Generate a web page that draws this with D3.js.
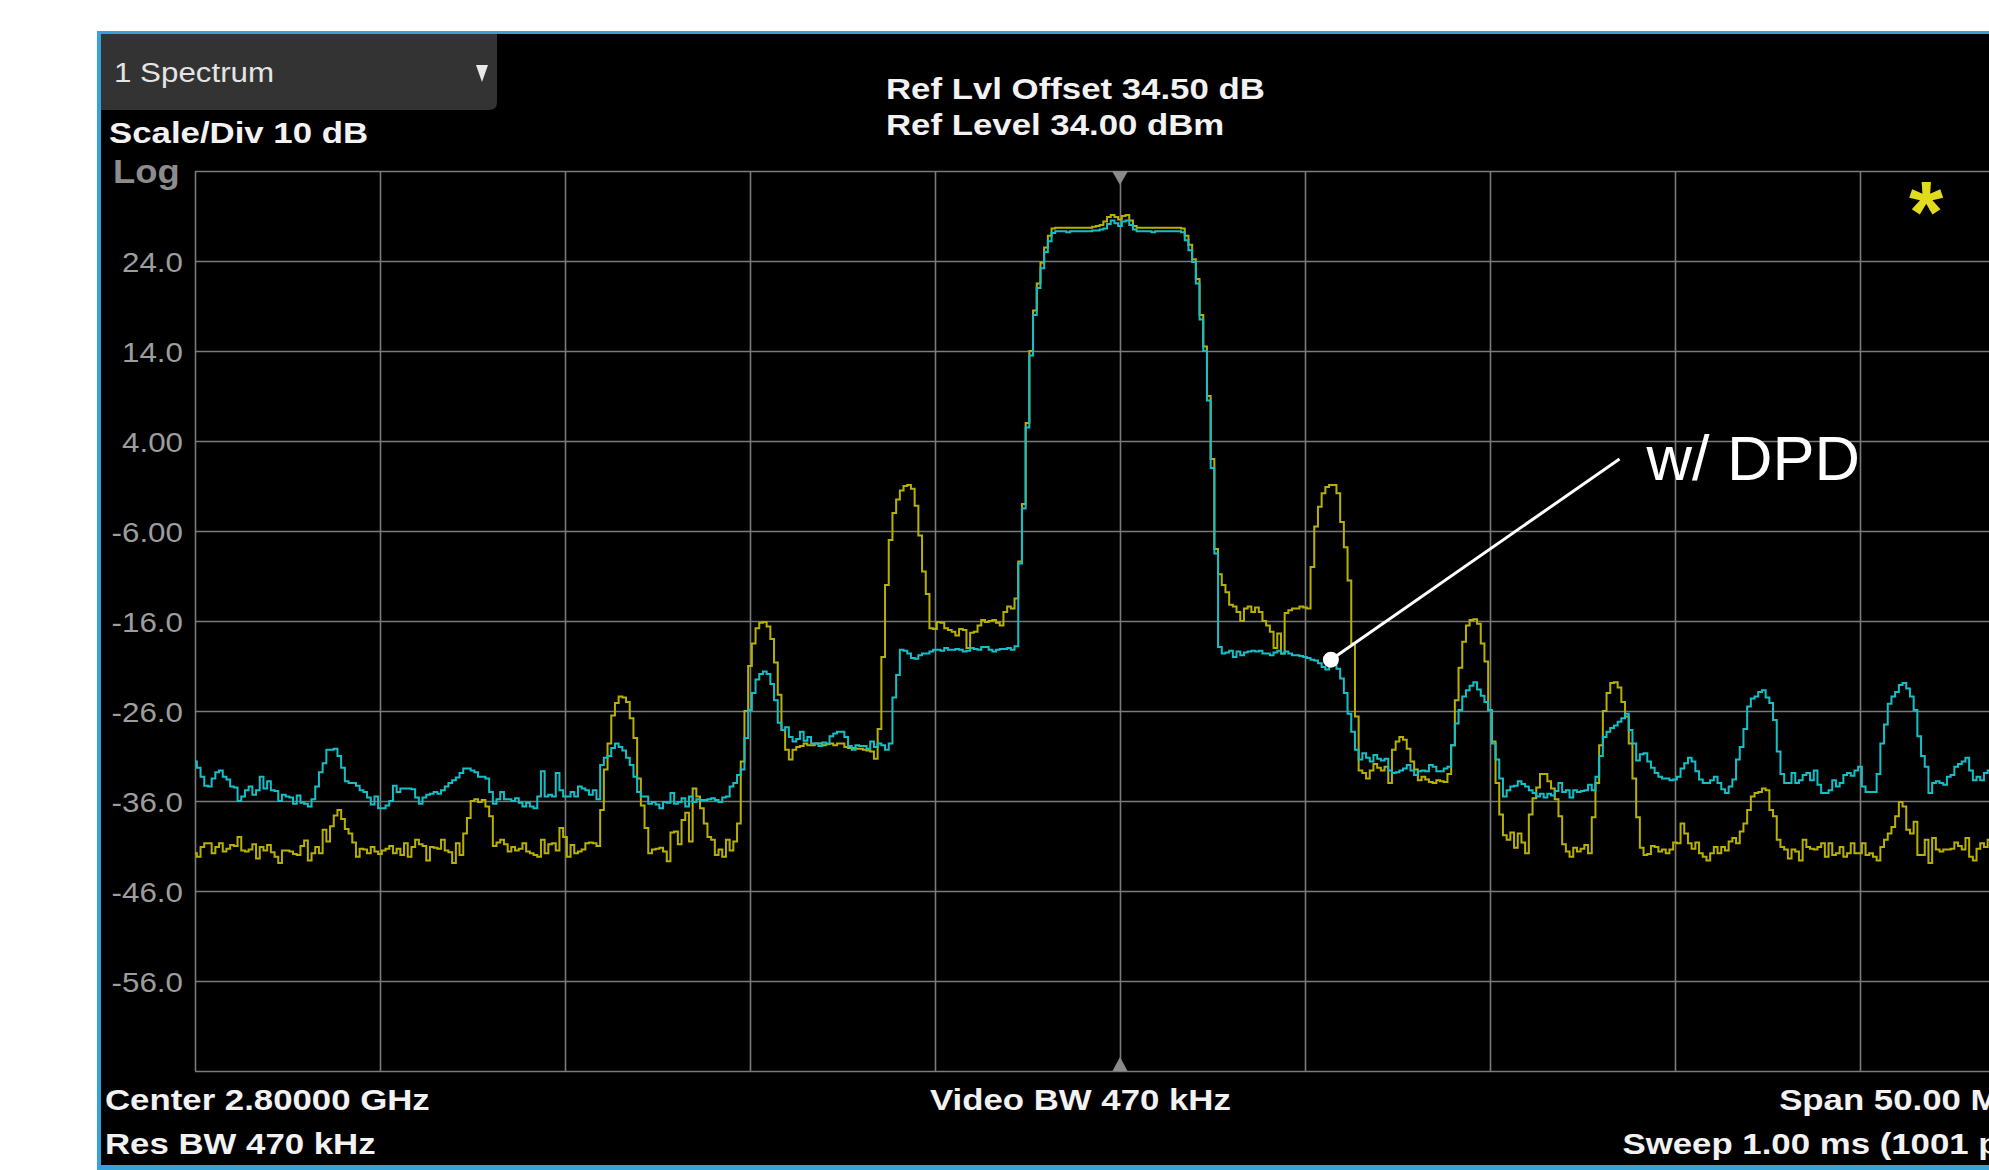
<!DOCTYPE html>
<html>
<head>
<meta charset="utf-8">
<script src="https://cdn.jsdelivr.net/npm/d3@7"></script>
<style>
  html, body { margin: 0; padding: 0; background: #fff; overflow: hidden; }
  svg { display: block; }
  text { font-family: "Liberation Sans", Arial, sans-serif; }
</style>
</head>
<body>
<svg id="chart" width="1989" height="1170"></svg>
<script>
// sweep: 2775 .. 2825 MHz, one value every 0.1 MHz
const START_MHZ = 2775;
const STEP_MHZ = 0.1;

const levelTicks = [34, 24, 14, 4, -6, -16, -26, -36, -46, -56, -66];
const freqTicks = [2775, 2780, 2785, 2790, 2795, 2800, 2805, 2810, 2815, 2820, 2825];

const headerLines = ['Ref Lvl Offset 34.50 dB', 'Ref Level 34.00 dBm'];
const footerLeft = ['Center 2.80000 GHz', 'Res BW 470 kHz'];
const footerMid = ['Video BW 470 kHz'];
const footerRight = ['Span 50.00 MHz', 'Sweep 1.00 ms (1001 pts)'];

// yellow trace (without DPD), dBm
const withoutDpd = [
  -41.8, -42.2, -41.1, -40.7, -40.7, -41.8, -41.1, -40.7, -41.6, -41.3,
  -40.9, -41.0, -40.0, -41.5, -41.6, -41.4, -40.8, -42.4, -41.1, -41.5,
  -40.9, -41.7, -42.2, -42.9, -41.5, -41.5, -41.6, -41.9, -42.0, -41.0,
  -40.4, -42.6, -41.8, -41.1, -41.8, -39.2, -40.5, -38.8, -37.6, -37.0,
  -38.0, -39.1, -39.6, -40.6, -42.2, -41.3, -41.4, -41.8, -41.1, -41.6,
  -41.9, -41.5, -41.3, -41.0, -41.8, -41.3, -42.0, -40.7, -42.2, -41.1,
  -40.3, -40.8, -41.0, -42.6, -41.1, -41.2, -41.3, -40.3, -41.5, -41.7,
  -42.9, -40.7, -42.0, -39.6, -37.9, -36.0, -35.8, -36.1, -35.9, -36.6,
  -37.7, -41.0, -40.6, -40.3, -40.8, -41.6, -41.1, -41.5, -41.3, -40.7,
  -41.6, -41.8, -42.0, -42.2, -40.3, -41.8, -40.8, -40.7, -41.5, -39.0,
  -40.0, -42.2, -40.9, -41.8, -41.6, -41.4, -40.7, -40.6, -40.7, -41.0,
  -37.0, -32.5, -29.6, -26.5, -25.1, -24.4, -24.5, -25.0, -26.8, -29.0,
  -33.5, -36.5, -39.0, -41.8, -41.4, -41.3, -41.2, -41.6, -42.7, -39.5,
  -39.4, -40.8, -38.1, -37.3, -40.5, -34.6, -35.5, -36.8, -38.5, -40.0,
  -40.3, -42.0, -41.4, -42.2, -40.3, -41.5, -40.5, -38.5, -31.6, -26.0,
  -21.0, -18.5, -16.8, -16.2, -16.1, -16.6, -18.0, -20.6, -24.2, -28.1,
  -30.3, -31.4, -30.3, -30.0, -29.9, -29.6, -29.8, -29.8, -29.6, -29.6,
  -29.8, -29.7, -29.6, -29.8, -29.6, -29.6, -30.0, -30.1, -30.1, -30.2,
  -30.2, -30.3, -30.4, -30.5, -31.3, -28.0, -20.0, -12.0, -7.0, -4.0,
  -2.5, -1.5, -1.0, -0.9, -1.3, -3.2, -6.5, -10.5, -13.0, -16.8,
  -16.9, -16.1, -16.2, -16.8, -17.0, -17.2, -17.6, -16.9, -17.0, -19.0,
  -17.3, -17.2, -16.5, -15.9, -16.1, -16.0, -15.9, -16.2, -16.5, -15.0,
  -14.4, -14.6, -13.5, -9.4, -3.0, 6.0, 14.0, 18.5, 21.5, 23.8,
  25.5, 26.8, 27.6, 27.7, 27.7, 27.7, 27.7, 27.7, 27.7, 27.7,
  27.7, 27.7, 27.7, 27.8, 27.9, 28.0, 28.4, 28.9, 29.1, 28.9,
  28.6, 29.0, 29.1, 28.5, 27.9, 27.7, 27.7, 27.7, 27.7, 27.7,
  27.7, 27.7, 27.7, 27.7, 27.7, 27.7, 27.7, 27.6, 26.8, 25.8,
  24.2, 22.0, 18.0, 14.5, 9.0, 2.0, -8.0, -10.8, -12.0, -12.8,
  -14.2, -14.4, -15.0, -16.0, -14.6, -14.4, -15.0, -14.5, -15.0, -16.0,
  -16.5, -17.2, -19.0, -17.4, -19.6, -15.1, -14.8, -14.6, -14.6, -14.4,
  -14.5, -14.6, -10.0, -5.5, -3.3, -1.8, -1.1, -0.9, -0.9, -1.8,
  -5.0, -7.8, -11.5, -18.5, -26.6, -32.6, -32.9, -33.5, -32.6, -31.9,
  -32.3, -32.6, -32.2, -34.0, -30.3, -29.4, -28.9, -29.2, -30.2, -31.6,
  -32.5, -33.7, -33.3, -33.6, -33.9, -34.0, -33.7, -33.8, -33.9, -33.0,
  -29.8, -24.8, -21.2, -18.3, -16.5, -15.9, -15.8, -16.3, -18.5, -20.5,
  -25.9, -29.4, -34.0, -37.5, -39.8, -40.3, -39.5, -41.2, -39.6, -40.6,
  -41.8, -37.5, -35.7, -34.5, -33.0, -33.0, -33.8, -34.6, -35.8, -37.7,
  -40.8, -41.6, -42.2, -41.2, -41.6, -41.3, -40.9, -41.8, -37.8, -34.0,
  -29.8, -26.0, -24.0, -22.9, -22.8, -23.4, -25.0, -26.6, -29.6, -33.5,
  -37.8, -41.2, -42.0, -41.9, -41.0, -41.1, -41.6, -41.4, -41.8, -41.4,
  -40.6, -40.7, -38.5, -39.6, -40.7, -41.3, -40.6, -41.8, -42.2, -42.6,
  -41.8, -41.1, -41.8, -41.1, -41.5, -40.5, -40.1, -40.7, -39.4, -38.5,
  -37.0, -35.5, -35.1, -35.0, -34.6, -34.8, -37.0, -37.7, -40.3, -41.1,
  -41.4, -42.4, -41.4, -41.6, -42.6, -40.3, -41.1, -41.3, -41.4, -41.1,
  -40.7, -42.2, -40.7, -42.0, -41.8, -41.1, -42.2, -41.8, -40.7, -41.8,
  -41.8, -40.7, -42.0, -41.8, -42.2, -42.6, -41.1, -40.3, -39.6, -38.9,
  -37.7, -36.1, -36.6, -39.2, -39.6, -38.3, -42.0, -42.0, -40.3, -42.9,
  -40.1, -41.4, -41.6, -41.4, -41.4, -41.3, -40.6, -41.0, -41.4, -40.1,
  -42.2, -42.6, -41.3, -40.7, -41.1, -40.3, -41.0, -41.7, -40.9, -41.5,
  -41.2, -40.8, -41.9, -41.3, -40.6, -41.4, -41.0, -42.1, -41.3, -40.9,
  -41.4
];

// cyan trace (with DPD), dBm
const withDpd = [
  -31.6, -32.3, -33.3, -34.3, -34.4, -33.5, -32.8, -32.6, -33.3, -33.6,
  -34.4, -34.5, -36.0, -35.5, -34.8, -34.4, -35.3, -34.8, -33.3, -34.6,
  -33.8, -34.8, -34.9, -36.0, -35.3, -35.5, -35.6, -36.3, -35.4, -36.2,
  -36.3, -36.6, -35.8, -34.4, -32.8, -31.8, -30.3, -30.3, -30.2, -31.0,
  -32.3, -33.8, -34.0, -34.0, -34.3, -34.8, -35.0, -35.6, -36.4, -35.5,
  -36.8, -36.8, -36.5, -36.0, -34.3, -35.0, -34.6, -34.6, -34.6, -34.7,
  -35.6, -36.3, -35.6, -35.3, -35.2, -35.0, -35.2, -34.8, -34.4, -34.0,
  -33.7, -33.4, -32.9, -32.4, -32.4, -32.6, -32.8, -33.3, -33.3, -33.5,
  -35.0, -36.3, -35.8, -35.0, -35.8, -35.8, -36.0, -35.7, -36.2, -36.6,
  -36.2, -36.6, -36.8, -35.5, -32.7, -35.5, -35.3, -35.5, -32.9, -34.8,
  -35.5, -35.5, -35.0, -35.5, -34.4, -34.6, -34.8, -35.3, -34.8, -35.8,
  -32.0, -31.2, -31.0, -30.1, -29.6, -30.0, -30.4, -31.2, -32.0, -33.3,
  -35.0, -35.5, -35.5, -36.3, -36.1, -36.4, -36.8, -36.1, -36.2, -35.1,
  -36.3, -36.1, -35.7, -36.6, -35.5, -36.1, -35.8, -35.9, -35.9, -35.8,
  -35.7, -35.9, -36.1, -35.6, -35.5, -34.4, -34.0, -33.1, -32.5, -29.0,
  -25.9, -24.0, -22.5, -21.9, -21.6, -21.9, -23.0, -24.8, -27.3, -28.1,
  -27.8, -28.9, -29.4, -29.1, -28.3, -29.3, -28.9, -29.6, -29.6, -29.9,
  -29.5, -29.6, -28.8, -28.5, -28.3, -28.3, -28.9, -29.9, -30.3, -29.8,
  -29.9, -29.9, -30.2, -29.4, -30.0, -29.6, -29.8, -30.3, -29.6, -24.5,
  -22.0, -19.2, -19.3, -19.6, -20.1, -20.2, -19.8, -19.6, -19.6, -19.4,
  -19.2, -19.2, -19.3, -19.0, -19.2, -19.2, -19.1, -19.2, -19.4, -19.3,
  -19.0, -19.1, -19.2, -18.9, -18.9, -19.2, -19.4, -19.2, -19.1, -19.1,
  -19.0, -19.2, -18.8, -9.6, -3.5, 5.5, 13.5, 18.0, 21.0, 23.2,
  25.0, 26.2, 27.1, 27.3, 27.3, 27.3, 27.2, 27.3, 27.3, 27.3,
  27.3, 27.3, 27.3, 27.4, 27.4, 27.5, 27.6, 28.1, 28.5, 28.2,
  27.9, 28.4, 28.5, 28.0, 27.5, 27.3, 27.3, 27.3, 27.3, 27.2,
  27.3, 27.3, 27.3, 27.3, 27.3, 27.3, 27.3, 27.2, 26.3, 25.2,
  23.9, 21.5, 17.5, 14.0, 8.5, 1.0, -8.5, -18.9, -19.6, -19.5,
  -19.3, -20.0, -19.4, -19.8, -19.5, -19.4, -19.3, -19.4, -19.3, -19.6,
  -19.6, -19.8, -19.5, -19.3, -19.6, -19.4, -19.6, -19.8, -19.8, -19.9,
  -20.0, -20.1, -20.3, -20.4, -20.7, -21.1, -21.4, -21.0, -20.7, -21.3,
  -22.4, -24.0, -26.3, -28.3, -30.3, -31.4, -30.7, -31.2, -31.6, -30.9,
  -31.3, -31.5, -31.3, -32.6, -32.9, -32.8, -32.6, -32.4, -32.0, -32.6,
  -33.1, -32.7, -32.6, -32.7, -32.0, -32.2, -32.7, -32.7, -32.4, -32.2,
  -29.8, -27.4, -25.9, -24.4, -23.7, -23.2, -22.8, -23.6, -24.3, -25.0,
  -25.9, -29.6, -31.4, -33.5, -35.5, -34.8, -34.4, -34.3, -33.8, -34.1,
  -34.4, -34.8, -35.1, -35.5, -35.2, -35.6, -35.2, -35.4, -34.9, -34.0,
  -35.0, -34.8, -35.6, -34.8, -35.0, -34.9, -34.8, -34.2, -34.8, -33.3,
  -31.0, -28.9, -28.3, -27.9, -27.6, -27.2, -26.8, -26.3, -28.1, -29.6,
  -31.5, -30.8, -30.7, -31.6, -32.3, -32.9, -33.3, -33.5, -33.5, -33.7,
  -33.6, -33.3, -32.4, -31.8, -31.2, -31.6, -32.7, -33.6, -34.0, -34.0,
  -33.7, -33.3, -34.0, -34.7, -35.1, -34.4, -33.6, -31.4, -30.0, -28.0,
  -25.5, -24.6, -24.4, -23.9, -23.7, -24.5, -25.1, -27.0, -30.5, -33.0,
  -34.0, -34.0, -32.9, -34.0, -33.7, -33.1, -32.9, -33.7, -32.6, -34.2,
  -35.1, -35.1, -34.8, -33.7, -34.4, -34.0, -33.1, -32.9, -33.2, -32.6,
  -32.2, -34.4, -35.0, -35.0, -35.0, -33.0, -29.6, -27.5, -25.2, -24.4,
  -23.9, -23.1, -22.9, -23.5, -24.4, -25.9, -28.8, -31.0, -32.2, -35.1,
  -34.0, -33.8, -34.0, -34.2, -33.3, -33.1, -32.2, -31.9, -31.6, -31.2,
  -32.6, -33.7, -33.3, -33.7, -32.9, -32.6, -33.4, -34.1, -33.8, -34.5,
  -34.0, -33.6, -34.2, -33.9, -34.6, -34.3, -33.8, -34.1, -34.4, -33.9,
  -34.2
];

// callout pointing at the DPD trace
const callout = {freq: 2805.7, level: -20.3, labelFreq: 2813.5, labelLevel: 2.0, text: 'w/ DPD'};

const W = 1989, H = 1170;
const plot = {left: 195, top: 171, right: 2045, bottom: 1071};
const SX = 1.16; // instrument font is a bit wide

const x = d3.scaleLinear().domain([2775, 2825]).range([plot.left, plot.right]);
const y = d3.scaleLinear().domain([-66, 34]).range([plot.bottom, plot.top]);

const svg = d3.select('#chart');

// frame
svg.append('rect').attr('width', W).attr('height', H).attr('fill', '#fff');
svg.append('rect').attr('x', 97).attr('y', 31).attr('width', W).attr('height', H)
  .attr('fill', '#35a2d8');
svg.append('rect').attr('x', 101).attr('y', 34).attr('width', W).attr('height', 1131)
  .attr('fill', '#000');

// window tab
svg.append('path')
  .attr('d', 'M101,34 H497 V102 Q497,110 489,110 H101 Z')
  .attr('fill', '#333');
svg.append('path')
  .attr('d', 'M476,65 H488 L482,82 Z')
  .attr('fill', '#e8e8e8');

function label(txt, px, py, opts) {
  opts = opts || {};
  return svg.append('text')
    .attr('transform', `translate(${px},${py}) scale(${opts.sx || SX},1)`)
    .attr('text-anchor', opts.anchor || 'start')
    .attr('font-size', opts.size || 30)
    .attr('font-weight', opts.weight || 'bold')
    .attr('fill', opts.fill || '#f2f2f2')
    .text(txt);
}

label('1 Spectrum', 114, 82, {size: 27, weight: 'normal', fill: '#e4e4e4'});
label('Scale/Div 10 dB', 109, 143);
label('Log', 113, 183, {size: 34, sx: 1.07, fill: '#8c8c8c'});
headerLines.forEach((t, i) => label(t, 886, 99 + i * 36));
footerLeft.forEach((t, i) => label(t, 105, 1110 + i * 44));
footerMid.forEach((t, i) => label(t, 930, 1110 + i * 44));
footerRight.forEach((t, i) => label(t, 2042, 1110 + i * 44, {anchor: 'end'}));

// grid
const fmt = d3.formatLocale({decimal: '.', thousands: ',', grouping: [3], currency: ['', ''], minus: '-'}).format('.3r');

const gy = svg.append('g')
  .attr('transform', `translate(${plot.left},0)`)
  .call(d3.axisLeft(y)
    .tickValues(levelTicks)
    .tickSize(-(plot.right - plot.left))
    .tickFormat(d => (d === 34 || d === -66) ? '' : fmt(d)));
gy.select('.domain').remove();
gy.selectAll('line').attr('stroke', '#7a7a7a').attr('stroke-width', 1.6);
gy.selectAll('text')
  .attr('x', -12 / 1.12)
  .attr('dy', '0.38em')
  .attr('transform', 'scale(1.12,1)')
  .attr('fill', '#9d9d9d')
  .attr('font-size', 28)
  .attr('font-family', '"Liberation Sans", Arial, sans-serif');

const gx = svg.append('g')
  .attr('transform', `translate(0,${plot.bottom})`)
  .call(d3.axisBottom(x)
    .tickValues(freqTicks)
    .tickSize(-(plot.bottom - plot.top))
    .tickFormat(''));
gx.select('.domain').remove();
gx.selectAll('line').attr('stroke', '#7a7a7a').attr('stroke-width', 1.6);

// center frequency markers
const cx = x(2800);
svg.append('path')
  .attr('d', `M${cx - 8},${plot.top} H${cx + 8} L${cx},${plot.top + 14} Z`)
  .attr('fill', '#8a8a8a');
svg.append('path')
  .attr('d', `M${cx - 7.5},${plot.bottom} H${cx + 7.5} L${cx},${plot.bottom - 14} Z`)
  .attr('fill', '#8a8a8a');

// traces
const line = d3.line()
  .x((d, i) => x(START_MHZ + i * STEP_MHZ))
  .y(d => y(d))
  .curve(d3.curveStep);

svg.append('path')
  .datum(withoutDpd)
  .attr('fill', 'none')
  .attr('stroke', '#b8b000')
  .attr('stroke-width', 2)
  .attr('d', line);

svg.append('path')
  .datum(withDpd)
  .attr('fill', 'none')
  .attr('stroke', '#14c0c8')
  .attr('stroke-width', 2)
  .attr('d', line);

// asterisk
svg.append('text')
  .attr('x', 1926).attr('y', 242)
  .attr('text-anchor', 'middle')
  .attr('font-size', 88)
  .attr('font-weight', 'bold')
  .attr('fill', '#e2da1c')
  .text('*');

// callout
const p0 = [x(callout.freq), y(callout.level)];
const p1 = [x(callout.labelFreq), y(callout.labelLevel)];
svg.append('line')
  .attr('x1', p0[0]).attr('y1', p0[1])
  .attr('x2', p1[0]).attr('y2', p1[1])
  .attr('stroke', '#fff')
  .attr('stroke-width', 3);
svg.append('circle')
  .attr('cx', p0[0]).attr('cy', p0[1])
  .attr('r', 8)
  .attr('fill', '#fff');
svg.append('text')
  .attr('x', p1[0] + 27).attr('y', p1[1] + 21)
  .attr('font-size', 63)
  .attr('fill', '#fff')
  .text(callout.text);
</script>
</body>
</html>
